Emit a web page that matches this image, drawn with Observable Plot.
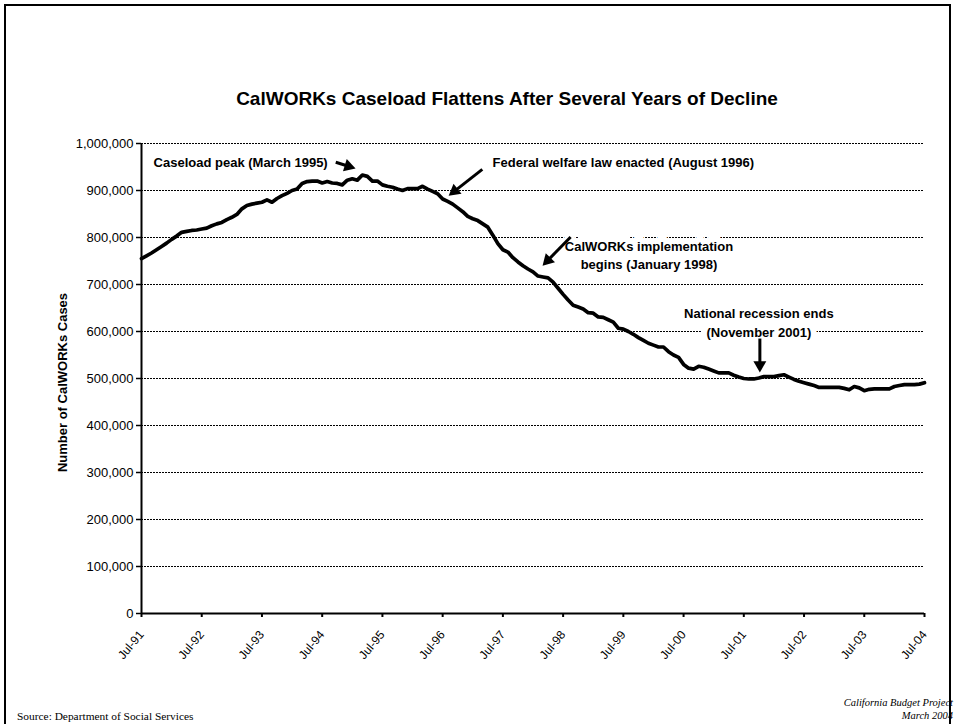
<!DOCTYPE html>
<html>
<head>
<meta charset="utf-8">
<script src="https://cdn.jsdelivr.net/npm/d3@7"></script>
<script src="https://cdn.jsdelivr.net/npm/@observablehq/plot@0.6"></script>
<style>
  html, body { margin: 0; padding: 0; overflow: hidden; background: #fff; }
  #page { position: relative; width: 954px; height: 724px; overflow: hidden; font-family: "Liberation Sans", Arial, sans-serif; }
  #frame { position: absolute; left: 4px; top: 4px; width: 943px; height: 760px; border: 2px solid #000; pointer-events: none; }
  #title { position: absolute; left: 0; width: 1014px; top: 88px; text-align: center; font-weight: bold; font-size: 19px; color: #000; }
  #source { position: absolute; left: 17px; top: 710px; font-family: "Liberation Serif", "Times New Roman", serif; font-size: 11.4px; color: #000; }
  #cbp { position: absolute; right: 1px; top: 696px; font-family: "Liberation Serif", "Times New Roman", serif; font-style: italic; font-size: 10.5px; text-align: right; line-height: 13px; color: #000; }
  #chart { position: absolute; left: 0; top: 0; }
</style>
</head>
<body>
<div id="page">
  <div id="chart"></div>
  <div id="title">CalWORKs Caseload Flattens After Several Years of Decline</div>
  <div id="source">Source: Department of Social Services</div>
  <div id="cbp">California Budget Project<br>March 2004</div>
  <div id="frame"></div>
</div>
<script>
// Monthly CalWORKs caseload, July 1991 (index 0) through July 2004 (index 156)
const caseload = [
  755000, 761000, 767000, 774000, 781000, 788000, 796000, 803000, 811000, 813000,
  815000, 816000, 818000, 820000, 825000, 829000, 832000, 838000, 843000, 849000,
  861000, 868000, 871000, 873000, 875000, 880000, 875000, 883000, 889000, 894000,
  900000, 903000, 915000, 919000, 920000, 920000, 916000, 919000, 916000, 915000,
  912000, 922000, 925000, 922000, 933000, 930000, 920000, 920000, 912000, 909000,
  907000, 903000, 900000, 904000, 904000, 904000, 909000, 903000, 898000, 893000,
  882000, 877000, 871000, 863000, 855000, 845000, 840000, 836000, 829000, 822000,
  805000, 787000, 774000, 769000, 757000, 748000, 740000, 733000, 727000, 718000,
  716000, 714000, 705000, 692000, 679000, 667000, 656000, 652000, 648000, 640000,
  639000, 631000, 630000, 625000, 620000, 607000, 605000, 600000, 594000, 587000,
  581000, 575000, 571000, 567000, 567000, 557000, 550000, 545000, 530000, 522000,
  520000, 526000, 524000, 520000, 516000, 512000, 512000, 512000, 507000, 503000,
  500000, 499000, 499000, 501000, 504000, 504000, 504000, 506000, 508000, 503000,
  498000, 494000, 491000, 488000, 485000, 481000, 481000, 481000, 481000, 481000,
  479000, 476000, 483000, 480000, 474000, 477000, 478000, 478000, 478000, 478000,
  483000, 485000, 487000, 487000, 487000, 488000, 491000
];

const tickLabels = ["Jul-91","Jul-92","Jul-93","Jul-94","Jul-95","Jul-96","Jul-97",
                    "Jul-98","Jul-99","Jul-00","Jul-01","Jul-02","Jul-03","Jul-04"];
const yTicks = [0,100000,200000,300000,400000,500000,600000,700000,800000,900000,1000000];
const yLabel = "Number of CalWORKs Cases";

// Annotations (month index, caseload value)
const noteLabels = ["Caseload peak (March 1995)", "Federal welfare law enacted (August 1996)",
                    "CalWORKs implementation\nbegins (January 1998)", "National recession ends\n(November 2001)"];
const noteMonth = [19.75, 96.0, 101.1, 123];
const noteValue = [962000, 962000, 765000, 622000];
const arrowFromMonth = [38.7, 67.9, 85.5, 123.2];
const arrowFromValue = [960000, 945000, 801000, 585000];
const arrowToMonth = [42.65, 61.2, 79.9, 123.2];
const arrowToValue = [947000, 889000, 740000, 513000];

// plot geometry
const W = 954, H = 724, ML = 141, MR = 30, MT = 143, MB = 111;
const xMax = 156, yMax = 1000000;
const kx = (W - ML - MR) / xMax;      // px per month
const ky = (H - MT - MB) / yMax;      // px per case
const headR = 4.8;                    // triangle "radius"
const tipDist = 2 * Math.sqrt(Math.PI * headR * headR / (Math.sqrt(3) * 3));

const series = caseload.map((v, i) => ({m: i, v}));
const notes = noteLabels.map((t, i) => ({t, m: noteMonth[i], v: noteValue[i]}));
const arrows = arrowFromMonth.map((m1, i) => {
  const m2 = arrowToMonth[i], v2 = arrowToValue[i], v1 = arrowFromValue[i];
  const dxp = (m2 - m1) * kx, dyp = -(v2 - v1) * ky;
  const len = Math.hypot(dxp, dyp);
  const ux = dxp / len, uy = dyp / len;
  const cm = m2 - (tipDist * ux) / kx;
  const cv = v2 + (tipDist * uy) / ky;
  const rot = Math.atan2(dxp, -dyp) * 180 / Math.PI;
  return {m1, v1, cm, cv, rot};
});
const xTicks = tickLabels.map((_, i) => i * 12);

const chart = Plot.plot({
  width: W,
  height: H,
  marginLeft: ML,
  marginRight: MR,
  marginTop: MT,
  marginBottom: MB,
  style: {fontFamily: "'Liberation Sans', Arial, sans-serif", fontSize: "13px", color: "#000", background: "transparent"},
  x: {domain: [0, xMax], type: "linear"},
  y: {domain: [0, yMax]},
  marks: [
    Plot.ruleY(yTicks.filter(d => d > 0), {stroke: "#000", strokeWidth: 1, strokeDasharray: "2,1"}),
    Plot.text(notes, {x: "m", y: "v", text: "t", fontWeight: "bold", fontSize: 13, fill: "#000",
      stroke: "white", strokeWidth: 12, paintOrder: "stroke", lineHeight: 1.45, textAnchor: "middle"}),
    Plot.line(series, {x: "m", y: "v", stroke: "#000", strokeWidth: 3.7, strokeLinejoin: "round"}),
    Plot.link(arrows, {x1: "m1", y1: "v1", x2: "cm", y2: "cv", stroke: "#000", strokeWidth: 3}),
    Plot.dot(arrows, {x: "cm", y: "cv", symbol: "triangle", r: headR, rotate: "rot", fill: "#000", stroke: "none"}),
    Plot.ruleX([0], {stroke: "#000", strokeWidth: 2}),
    Plot.ruleY([0], {stroke: "#000", strokeWidth: 2}),
    Plot.axisY({ticks: yTicks, tickFormat: d3.format(","), tickSize: 5, tickPadding: 3, label: null, fontSize: 13, strokeWidth: 1.5}),
    Plot.axisX({ticks: xTicks, tickFormat: d => tickLabels[d / 12], tickRotate: -50, tickSize: 4, tickPadding: 15, label: null, fontSize: 12, strokeWidth: 2}),
    Plot.text([yLabel], {frameAnchor: "left", dx: -79, dy: 4, rotate: -90, textAnchor: "middle", text: d => d, fontWeight: "bold", fontSize: 13, fill: "#000"})
  ]
});
document.getElementById("chart").appendChild(chart);
</script>
</body>
</html>
